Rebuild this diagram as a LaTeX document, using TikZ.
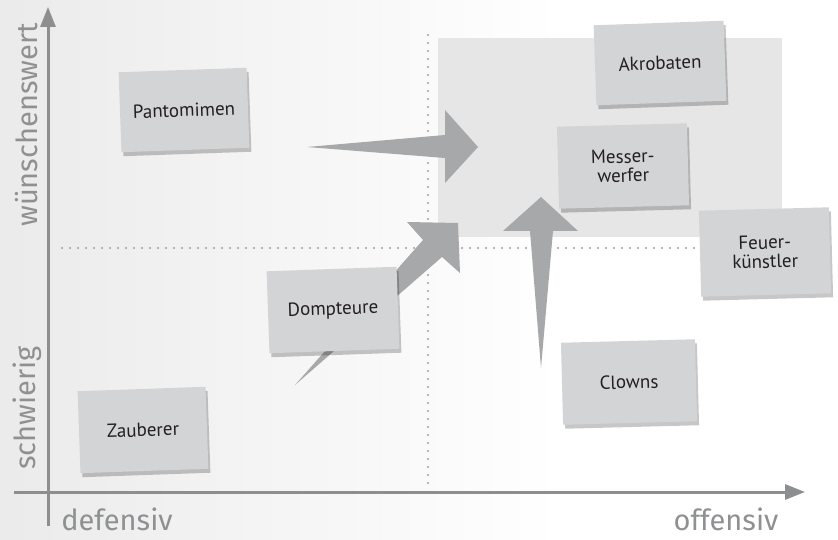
\documentclass[tikz,border=0pt]{standalone}
\usepackage{fontspec}
\setmainfont{PT Sans}
\newfontfamily\handfont{Fira Sans}
\usetikzlibrary{shadows,arrows.meta}
\definecolor{arrowgray}{HTML}{A7A8AA}
\definecolor{cardgray}{HTML}{D3D4D5}
\definecolor{axisgray}{HTML}{8D8E90}
\definecolor{zonegray}{HTML}{E6E6E6}
\definecolor{txtdark}{HTML}{231F20}
\definecolor{labgray}{HTML}{8F9092}
\tikzset{
  card/.style={fill=cardgray, minimum width=128pt, minimum height=80pt, inner sep=2pt,
    align=center, text=txtdark, font=\fontsize{19}{19}\selectfont,
    drop shadow={shadow xshift=2pt, shadow yshift=-4pt, fill=black, opacity=0.22}},
  blockarrow/.style={fill=arrowgray, draw=none},
  axisline/.style={draw=axisgray, line width=3pt, -{Triangle[length=20pt,width=15pt]}},
  dotline/.style={draw=gray!75, line width=2.2pt, line cap=round, dash pattern=on 0pt off 8pt},
  axislabel/.style={text=labgray, font=\handfont\fontsize{29}{29}\selectfont, inner sep=0pt}
}
\begin{document}
\begin{tikzpicture}[x=1pt,y=-1pt]
\useasboundingbox (0,0) rectangle (838,540);
% background
\fill[white] (0,0) rectangle (838,540);
\shade[left color=black!8, right color=white] (0,0) rectangle (560,540);
% desirable zone
\fill[zonegray] (438,38) rectangle (782,237);
% dotted quadrant lines
\coordinate (vtop) at (428,35);
\coordinate (vbot) at (428,490);
\coordinate (hleft) at (62,248);
\coordinate (hright) at (760,248);
\draw[dotline] (vtop) -- (vbot);
\draw[dotline] (hleft) -- (hright);
% axes
\coordinate (ystart) at (48,526);
\coordinate (yend) at (48,7);
\coordinate (xstart) at (14,492);
\coordinate (xend) at (805,492);
\draw[axisline] (ystart) -- (yend);
\draw[axisline] (xstart) -- (xend);
% block arrows
\fill[blockarrow] (307,147) -- (445,135) -- (445,110) -- (478,147) -- (445,183) -- (445,158) -- cycle;
\fill[blockarrow] (295,385) -- (423,240) -- (407,222) -- (458,223) -- (460,273) -- (442,257) -- cycle;
\fill[blockarrow] (541,368) -- (530,231) -- (503,231) -- (541,197) -- (578,231) -- (553,231) -- cycle;
% cards
\node[card, rotate=2] (pant) at (184,110) {Pantomimen};
\node[card, rotate=2, minimum height=82pt] (zaub) at (143,430) {Zauberer};
\node[card, rotate=2, minimum width=130pt, minimum height=82pt] (domp) at (333,310) {Dompteure};
\node[card, rotate=2, minimum width=130pt] (akro) at (660,63) {Akrobaten};
\node[card, rotate=1.5, minimum width=130pt, minimum height=82pt] (mess) at (623,166) {Messer-\\werfer};
\node[card, rotate=1.5, minimum width=130pt, minimum height=86pt] (feuer) at (765,252) {Feuer-\\künstler};
\node[card, rotate=1.5, minimum width=134pt, minimum height=82pt] (clown) at (629,382) {Clowns};
% axis labels
\node[axislabel, rotate=90] (wuen) at (27,125) {wünschenswert};
\node[axislabel, rotate=90] (schw) at (27,408) {schwierig};
\node[axislabel] (def) at (117,519) {defensiv};
\node[axislabel] (off) at (726,519) {offensiv};
\end{tikzpicture}
\end{document}
